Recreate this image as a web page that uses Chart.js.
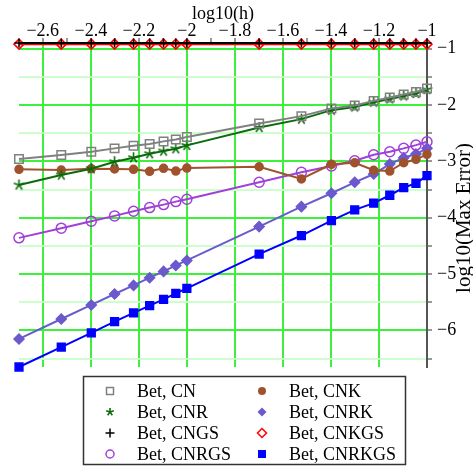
<!DOCTYPE html>
<html>
<head>
<meta charset="utf-8">
<script src="https://cdn.jsdelivr.net/npm/chart.js@4/dist/chart.umd.min.js"></script>
<style>
  html, body { margin: 0; padding: 0; background: #fff; }
  #wrap { width: 473px; height: 470px; }
</style>
</head>
<body>
<div id="wrap"><canvas id="myChart" width="473" height="470"></canvas></div>
<script>
//? DATOS

const logH = [-2.699, -2.523, -2.398, -2.301, -2.222, -2.155, -2.097, -2.046, -2.0,
  -1.699, -1.523, -1.398, -1.301, -1.222, -1.155, -1.097, -1.046, -1.0];

const errCN = [-2.959, -2.888, -2.830, -2.770, -2.724, -2.694, -2.646, -2.611, -2.570,
  -2.327, -2.198, -2.062, -2.009, -1.927, -1.867, -1.814, -1.768, -1.708];
const errCNR = [-3.420, -3.242, -3.131, -3.007, -2.936, -2.865, -2.817, -2.776, -2.717,
  -2.398, -2.251, -2.092, -2.034, -1.950, -1.892, -1.839, -1.796, -1.726];
const errCNGS = [-0.90, -0.90, -0.90, -0.90, -0.90, -0.90, -0.90, -0.90, -0.90,
  -0.90, -0.90, -0.90, -0.90, -0.90, -0.90, -0.90, -0.90, -0.90];
const errCNRGS = [-4.358, -4.186, -4.062, -3.968, -3.885, -3.821, -3.768, -3.715, -3.673,
  -3.372, -3.195, -3.083, -2.989, -2.883, -2.830, -2.770, -2.712, -2.653];
const errCNK = [-3.142, -3.154, -3.131, -3.136, -3.142, -3.177, -3.124, -3.172, -3.119,
  -3.096, -3.313, -3.053, -3.025, -3.159, -3.172, -3.025, -2.965, -2.876];
const errCNRK = [-6.152, -5.798, -5.549, -5.354, -5.202, -5.065, -4.954, -4.848, -4.759,
  -4.158, -3.804, -3.566, -3.372, -3.225, -3.048, -2.936, -2.871, -2.770];
const errCNKGS = [-0.92, -0.92, -0.92, -0.92, -0.92, -0.92, -0.92, -0.92, -0.92,
  -0.92, -0.92, -0.92, -0.92, -0.92, -0.92, -0.92, -0.92, -0.92];
const errCNRKGS = [-6.650, -6.296, -6.044, -5.844, -5.690, -5.561, -5.449, -5.343, -5.255,
  -4.646, -4.317, -4.051, -3.862, -3.743, -3.602, -3.467, -3.389, -3.255];

const xTicks = [-2.6, -2.5, -2.4, -2.3, -2.2, -2.1, -2.0, -1.9, -1.8, -1.7, -1.6, -1.5, -1.4, -1.3, -1.2, -1.1, -1.0];
const yTicks = [-1, -1.5, -2, -2.5, -3, -3.5, -4, -4.5, -5, -5.5, -6, -6.5];

const xTitle = "log10(h)";
const yTitle = "log10(Max Error)";
const FONT = "'Liberation Serif', 'Times New Roman', serif";

//? MARCADOR ESTRELLA DE 5 PUNTAS

function makeStar(color, size) {
  const c = document.createElement("canvas");
  c.width = size;
  c.height = size;
  const g = c.getContext("2d");
  g.strokeStyle = color;
  g.lineWidth = 1.6;
  const r = size / 2 - 1;
  for (let i = 0; i < 5; i++) {
    const a = -Math.PI / 2 + i * 2 * Math.PI / 5;
    g.beginPath();
    g.moveTo(size / 2, size / 2);
    g.lineTo(size / 2 + r * Math.cos(a), size / 2 + r * Math.sin(a));
    g.stroke();
  }
  return c;
}

const starImg = makeStar("#0b6b0b", 13);
const starSmall = makeStar("#0b6b0b", 10);

//? SERIES

function serie(label, data, color, style, radius, fill) {
  return {
    label,
    data: logH.map((x, i) => ({ x, y: data[i] })),
    borderColor: color,
    backgroundColor: color,
    borderWidth: 2,
    pointStyle: style,
    pointRadius: radius,
    pointHoverRadius: radius,
    pointBorderColor: color,
    pointBackgroundColor: fill,
    pointBorderWidth: 1.5,
    clip: false,
  };
}

const series = [
  serie("Bet, CNGS", errCNGS, "#000000", "cross", 4.5, "#000000"),
  serie("Bet, CNKGS", errCNKGS, "#ff0000", "rectRot", 5, "rgba(0,0,0,0)"),
  serie("Bet, CN", errCN, "#808080", "rect", 6, "rgba(255,255,255,0)"),
  serie("Bet, CNR", errCNR, "#0b6b0b", starImg, 6, "#0b6b0b"),
  serie("Bet, CNK", errCNK, "#a0522d", "circle", 4, "#a0522d"),
  serie("Bet, CNRGS", errCNRGS, "#a040d8", "circle", 5, "rgba(255,255,255,0)"),
  serie("Bet, CNRK", errCNRK, "#6a5acd", "rectRot", 5, "#6a5acd"),
  serie("Bet, CNRKGS", errCNRKGS, "#0000ff", "rect", 5.5, "#0000ff"),
];

//? LEYENDA Y TITULO DEL EJE Y

const legendItems = [
  { label: "Bet, CN", color: "#808080", mark: "openSquare" },
  { label: "Bet, CNK", color: "#a0522d", mark: "dot" },
  { label: "Bet, CNR", color: "#0b6b0b", mark: "star" },
  { label: "Bet, CNRK", color: "#6a5acd", mark: "diamond" },
  { label: "Bet, CNGS", color: "#000000", mark: "plus" },
  { label: "Bet, CNKGS", color: "#ff0000", mark: "openDiamond" },
  { label: "Bet, CNRGS", color: "#a040d8", mark: "openCircle" },
  { label: "Bet, CNRKGS", color: "#0000ff", mark: "square" },
];

function drawMark(ctx, mark, color, x, y) {
  ctx.save();
  ctx.strokeStyle = color;
  ctx.fillStyle = color;
  ctx.lineWidth = 1.5;
  ctx.beginPath();
  if (mark === "openSquare") {
    ctx.strokeRect(x - 3.5, y - 3.5, 7, 7);
  } else if (mark === "square") {
    ctx.fillRect(x - 4, y - 4, 8, 8);
  } else if (mark === "dot") {
    ctx.arc(x, y, 4, 0, Math.PI * 2);
    ctx.fill();
  } else if (mark === "openCircle") {
    ctx.arc(x, y, 4, 0, Math.PI * 2);
    ctx.stroke();
  } else if (mark === "diamond" || mark === "openDiamond") {
    ctx.moveTo(x, y - 4.5);
    ctx.lineTo(x + 4.5, y);
    ctx.lineTo(x, y + 4.5);
    ctx.lineTo(x - 4.5, y);
    ctx.closePath();
    if (mark === "diamond") ctx.fill(); else ctx.stroke();
  } else if (mark === "plus") {
    ctx.moveTo(x - 4.5, y);
    ctx.lineTo(x + 4.5, y);
    ctx.moveTo(x, y - 4.5);
    ctx.lineTo(x, y + 4.5);
    ctx.stroke();
  } else if (mark === "star") {
    ctx.drawImage(starSmall, x - 5, y - 5);
  }
  ctx.restore();
}

const extrasPlugin = {
  id: "extras",
  afterDraw(chart) {
    const ctx = chart.ctx;
    ctx.save();
    // titulo eje y (de abajo hacia arriba)
    ctx.font = "21px " + FONT;
    ctx.fillStyle = "#000";
    ctx.textAlign = "center";
    ctx.textBaseline = "middle";
    ctx.translate(464, 218);
    ctx.rotate(-Math.PI / 2);
    ctx.fillText(yTitle, 0, 0);
    ctx.restore();

    // caja de leyenda
    ctx.save();
    ctx.strokeStyle = "#333";
    ctx.lineWidth = 1.5;
    ctx.strokeRect(83.5, 376.5, 322, 88);
    ctx.font = "18px " + FONT;
    ctx.fillStyle = "#000";
    ctx.textAlign = "left";
    ctx.textBaseline = "middle";
    legendItems.forEach((it, i) => {
      const col = i % 2;
      const row = Math.floor(i / 2);
      const y = 391 + row * 21;
      const mx = col === 0 ? 110 : 262;
      const tx = col === 0 ? 137 : 289;
      drawMark(ctx, it.mark, it.color, mx, y);
      ctx.fillStyle = "#000";
      ctx.fillText(it.label, tx, y + 1);
    });
    ctx.restore();
  },
};

//? FORMATO DE ETIQUETAS

function fmt(v) {
  const s = Math.abs(v - Math.round(v)) < 1e-6 ? String(Math.round(Math.abs(v))) : Math.abs(v).toFixed(1);
  return (v < 0 ? "\u2212" : "") + s;
}

const isMajorX = (v) => Math.abs(v * 5 - Math.round(v * 5)) < 1e-6;
const isMajorY = (v) => Math.abs(v - Math.round(v)) < 1e-6;

//? GRAFICO

const config = {
  type: "line",
  data: { datasets: series },
  plugins: [extrasPlugin],
  options: {
    responsive: false,
    animation: false,
    devicePixelRatio: 1,
    layout: { padding: { left: 19, right: 0, top: 0, bottom: 103 } },
    plugins: {
      legend: { display: false },
      tooltip: { enabled: false },
    },
    scales: {
      x: {
        type: "linear",
        position: "top",
        min: -2.699,
        max: -1,
        afterBuildTicks: (s) => { s.ticks = xTicks.map((v) => ({ value: v })); },
        afterFit: (s) => { s.height = 43; },
        ticks: {
          autoSkip: false,
          maxRotation: 0,
          padding: -4,
          color: "#000",
          font: { family: FONT, size: 18 },
          callback: (v) => (isMajorX(v) ? fmt(v) : ""),
        },
        grid: {
          color: (c) => (c.tick && isMajorX(c.tick.value) ? "#3cf03c" : "rgba(0,0,0,0)"),
          lineWidth: 2,
          tickColor: "#333",
          tickLength: 5,
          tickWidth: 1,
        },
        border: { color: "#555", width: 2 },
        title: {
          display: true,
          text: xTitle,
          color: "#000",
          font: { family: FONT, size: 18 },
          padding: { top: 3, bottom: 0 },
        },
      },
      y: {
        type: "linear",
        position: "right",
        min: -6.65,
        max: -0.9,
        afterBuildTicks: (s) => { s.ticks = yTicks.map((v) => ({ value: v })); },
        afterFit: (s) => { s.width = 46; },
        ticks: {
          autoSkip: false,
          padding: 5,
          color: "#000",
          font: { family: FONT, size: 18 },
          callback: (v) => (isMajorY(v) ? fmt(v) : ""),
        },
        grid: {
          color: (c) => (c.tick && isMajorY(c.tick.value) ? "#3cf03c" : "#ccffcc"),
          lineWidth: 2,
          tickColor: "#333",
          tickLength: 5,
          tickWidth: 1,
        },
        border: { color: "#555", width: 2 },
      },
    },
  },
};

const myChart = new Chart("myChart", config);
</script>
</body>
</html>
